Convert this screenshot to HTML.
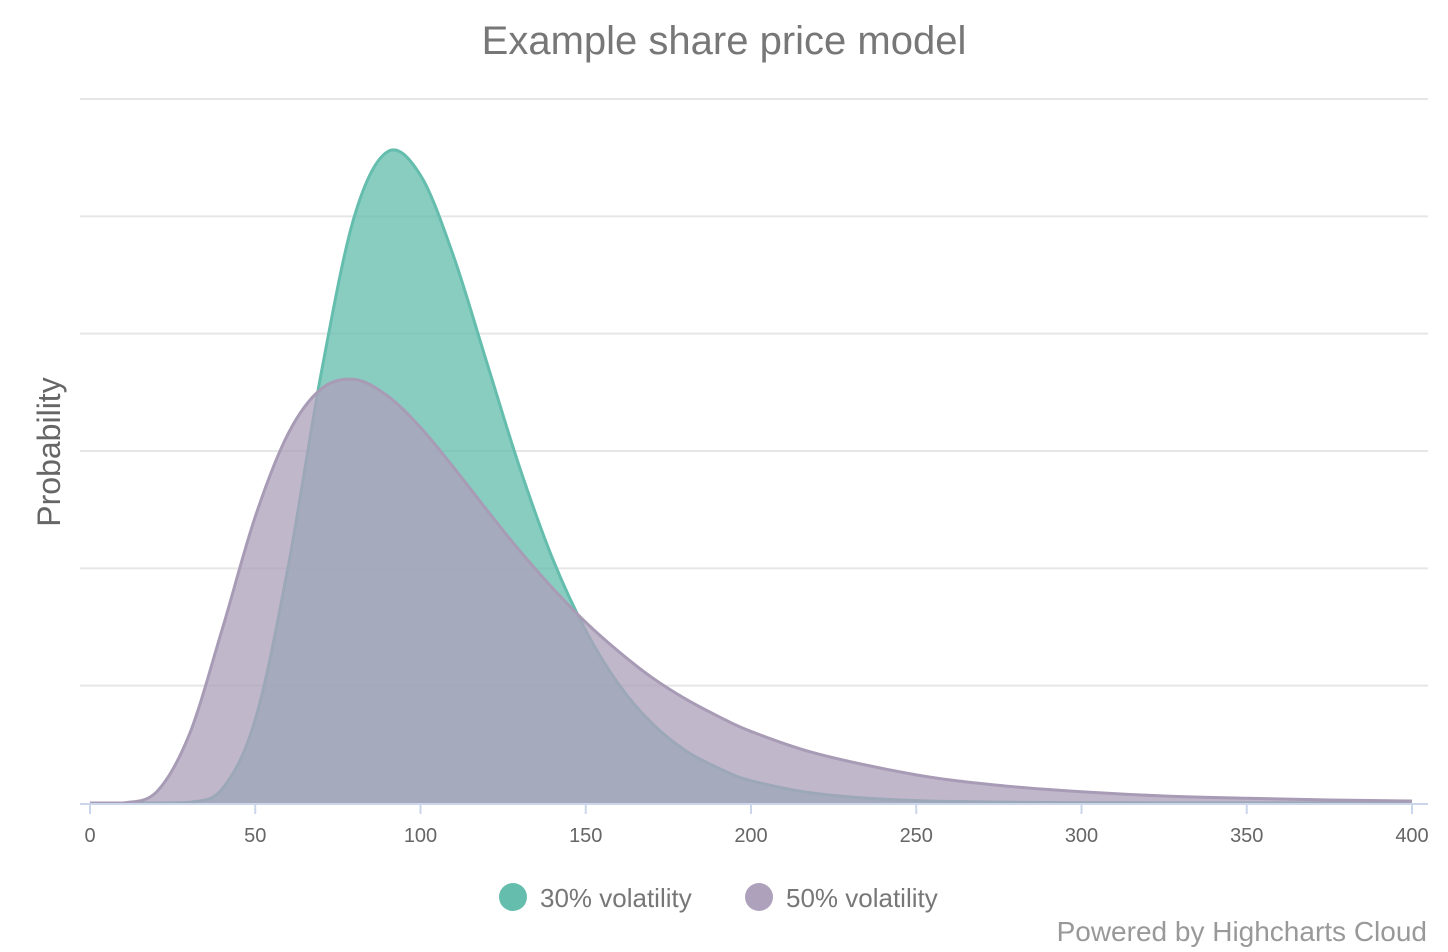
<!DOCTYPE html>
<html><head><meta charset="utf-8"><style>
html,body{margin:0;padding:0;background:#fff}
svg{display:block;font-family:"Liberation Sans",sans-serif}
</style></head><body>
<svg id="chart" width="1448" height="952" viewBox="0 0 1448 952" xmlns="http://www.w3.org/2000/svg">
<text x="724" y="54" text-anchor="middle" font-size="40" fill="#777">Example share price model</text>
<text transform="translate(60,452) rotate(-90)" text-anchor="middle" font-size="32" fill="#666">Probability</text>
<g id="grid"></g>
<g id="series"></g>
<g id="xaxis"></g>
<g>
<g><circle cx="513" cy="897" r="14" fill="#64bdad"/><text x="540" y="907" font-size="26" fill="#777">30% volatility</text></g>
<g><circle cx="759" cy="897" r="14" fill="#ada1bb"/><text x="786" y="907" font-size="26" fill="#777">50% volatility</text></g>
</g>
<text x="1427" y="941" text-anchor="end" font-size="28" fill="#999">Powered by Highcharts Cloud</text>
</svg>
<script>
const xsGreen = [0,10,20,30,40,50,60,70,80,90,100,110,120,130,140,150,160,170,180,190,200,220,250,300,350,400];
const valsGreen = [0,0,0,0.005,0.12,0.71,2.02,3.67,5.0,5.55,5.35,4.66,3.76,2.86,2.08,1.47,1.01,0.68,0.45,0.30,0.19,0.08,0.02,0.003,0.001,0];
const xsPurple = [0,10,20,30,40,50,60,70,80,90,100,110,120,130,140,150,160,170,180,190,200,220,250,275,300,325,350,375,400];
const valsPurple = [0,0,0.09,0.58,1.48,2.44,3.15,3.53,3.61,3.47,3.20,2.86,2.50,2.15,1.83,1.54,1.29,1.07,0.89,0.74,0.61,0.42,0.24,0.15,0.096,0.06,0.04,0.026,0.017];
const xTicks = [0,50,100,150,200,250,300,350,400];
const yTicks = [0,1,2,3,4,5,6];

const NS='http://www.w3.org/2000/svg';
const X0=90,X1=1412,Y0=803,Y1=99;
const xScale=v=>X0+(v-0)/(400-0)*(X1-X0);
const yScale=v=>Y0-(v/6)*(Y0-Y1);
function mk(tag,attrs,parent){const e=document.createElementNS(NS,tag);for(const k in attrs)e.setAttribute(k,attrs[k]);parent.appendChild(e);return e;}
const grid=document.getElementById('grid');
yTicks.forEach(t=>{
  if(t===0)return;
  const l=mk('line',{x1:80,x2:1428,y1:yScale(t),y2:yScale(t),stroke:'#e6e6e6','stroke-width':2},grid);
  
  
});
function smoothPath(pts){
  let d='M'+pts[0][0]+','+pts[0][1];
  for(let i=0;i<pts.length-1;i++){
    const p0=pts[Math.max(0,i-1)],p1=pts[i],p2=pts[i+1],p3=pts[Math.min(pts.length-1,i+2)];
    let c1y=p1[1]+(p2[1]-p0[1])/6, c2y=p2[1]-(p3[1]-p1[1])/6;
    c1y=Math.min(c1y,Y0);c2y=Math.min(c2y,Y0);
    d+=' C'+(p1[0]+(p2[0]-p0[0])/6)+','+c1y+' '+(p2[0]-(p3[0]-p1[0])/6)+','+c2y+' '+p2[0]+','+p2[1];
  }
  return d;
}
const ser=document.getElementById('series');
function drawSeries(xs,vals,fill,stroke,name){
  const pts=xs.map((x,i)=>[xScale(x),yScale(vals[i])]);
  const line=smoothPath(pts);
  const area=mk('path',{d:line+' L'+pts[pts.length-1][0]+','+Y0+' L'+pts[0][0]+','+Y0+' Z',fill:fill,'fill-opacity':0.76},ser);
  
  
  const ln=mk('path',{d:line,fill:'none',stroke:stroke,'stroke-width':3},ser);
  
  
}
drawSeries(xsGreen,valsGreen,'#64bdad','#64bdad','series-30-volatility');
drawSeries(xsPurple,valsPurple,'#ada1bb','#a89bb5','series-50-volatility');
const xa=document.getElementById('xaxis');
const al=mk('line',{x1:80,x2:1428,y1:804,y2:804,stroke:'#ccd6eb','stroke-width':2},xa);


xTicks.forEach(t=>{
  const tk=mk('line',{x1:xScale(t),x2:xScale(t),y1:804,y2:814,stroke:'#ccd6eb','stroke-width':2},xa);
  
  
  const tx=mk('text',{x:xScale(t),y:842,'text-anchor':'middle','font-size':20,fill:'#666'},xa);
  tx.textContent=t;
  
  
});
</script>
</body></html>
